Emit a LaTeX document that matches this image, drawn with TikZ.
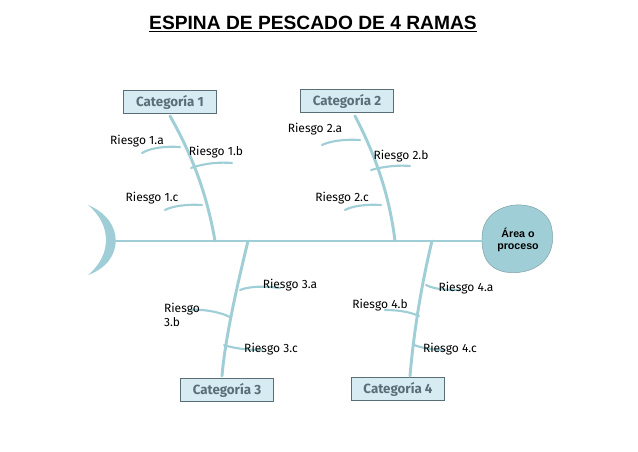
\documentclass[tikz,border=0pt]{standalone}
\usepackage{fontspec}
\setmainfont{Liberation Sans}
\newfontfamily\handfont{Fira Sans}
\usetikzlibrary{positioning}
\definecolor{bonecol}{RGB}{160,206,214}
\definecolor{boxbg}{RGB}{214,236,242}
\definecolor{boxline}{RGB}{90,110,120}
\tikzset{
  bone/.style={draw=bonecol, line width=2.2pt, line cap=round},
  rib/.style={draw=bonecol, line width=1.6pt, line cap=round},
  cat/.style={draw=boxline, fill=boxbg, minimum width=70pt, minimum height=17pt, inner sep=2pt, font=\handfont\bfseries, text=boxline},
  risk/.style={font=\handfont\small, align=left, inner sep=1pt}
}
\begin{document}
\begin{tikzpicture}[x=0.75pt, y=-0.75pt]
    \useasboundingbox (0,0) rectangle (638,451);

    \node[font=\bfseries\Large] (title) at (313,24) {\underline{ESPINA DE PESCADO DE 4 RAMAS}};

    % cola y cabeza
    \fill[bonecol] (88,205) .. controls (125,220) and (125,262) .. (88,275)
        .. controls (112,255) and (112,225) .. (88,205);
    \draw[draw=bonecol!80!black, fill=bonecol] (482,238) .. controls (482,198) and (542,195) .. (551,225)
        .. controls (560,262) and (530,276) .. (505,272) .. controls (486,268) and (482,255) .. (482,238);
    \node[font=\bfseries\footnotesize, align=center] (area) at (518,240) {Área o\\proceso};
    \coordinate (tail) at (112,241);
    \draw[bone] (tail) -- (482,241);

    % categorias
    \node[cat] (c1) at (170,102) {Categoría 1};
    \node[cat] (c2) at (347,101) {Categoría 2};
    \node[cat] (c3) at (227,390) {Categoría 3};
    \node[cat] (c4) at (398,389) {Categoría 4};

    % espinas
    \coordinate (b1) at (215,241);
    \coordinate (b2) at (395,241);
    \coordinate (b3) at (248,241);
    \coordinate (b4) at (432,241);
    \draw[bone] (170,116) .. controls (195,160) and (208,200) .. (b1);
    \draw[bone] (355,116) .. controls (378,160) and (390,200) .. (b2);
    \draw[bone] (b3) .. controls (236,290) and (225,340) .. (222,376);
    \draw[bone] (b4) .. controls (420,290) and (413,340) .. (410,376);

    % riesgos
    \draw[rib] (180,147) .. controls (165,146) and (150,148) .. (142,153);
    \draw[rib] (191,168) .. controls (205,163) and (220,162) .. (232,163);
    \draw[rib] (202,205) .. controls (188,204) and (172,206) .. (165,210);
    \draw[rib] (360,140) .. controls (345,139) and (330,141) .. (322,145);
    \draw[rib] (371,170) .. controls (385,166) and (400,165) .. (410,166);
    \draw[rib] (381,205) .. controls (367,204) and (352,206) .. (345,210);
    \draw[rib] (240,290) .. controls (250,286) and (265,286) .. (280,288);
    \draw[rib] (230,317) .. controls (218,311) and (200,309) .. (190,310);
    \draw[rib] (224,345) .. controls (236,349) and (250,350) .. (262,350);
    \draw[rib] (426,285) .. controls (436,290) and (450,290) .. (460,290);
    \draw[rib] (419,316) .. controls (408,311) and (395,310) .. (385,310);
    \draw[rib] (414,345) .. controls (425,349) and (437,350) .. (445,350);

    \node[risk] (r1a) at (137,141) {Riesgo 1.a};
    \node[risk] (r1b) at (216,152) {Riesgo 1.b};
    \node[risk] (r1c) at (152,198) {Riesgo 1.c};
    \node[risk] (r2a) at (315,129) {Riesgo 2.a};
    \node[risk] (r2b) at (401,156) {Riesgo 2.b};
    \node[risk] (r2c) at (342,198) {Riesgo 2.c};
    \node[risk] (r3a) at (290,285) {Riesgo 3.a};
    \node[risk] (r3b) at (182,315) {Riesgo\\3.b};
    \node[risk] (r3c) at (271,349) {Riesgo 3.c};
    \node[risk] (r4a) at (466,288) {Riesgo 4.a};
    \node[risk] (r4b) at (380,305) {Riesgo 4.b};
    \node[risk] (r4c) at (450,349) {Riesgo 4.c};
\end{tikzpicture}
\end{document}
